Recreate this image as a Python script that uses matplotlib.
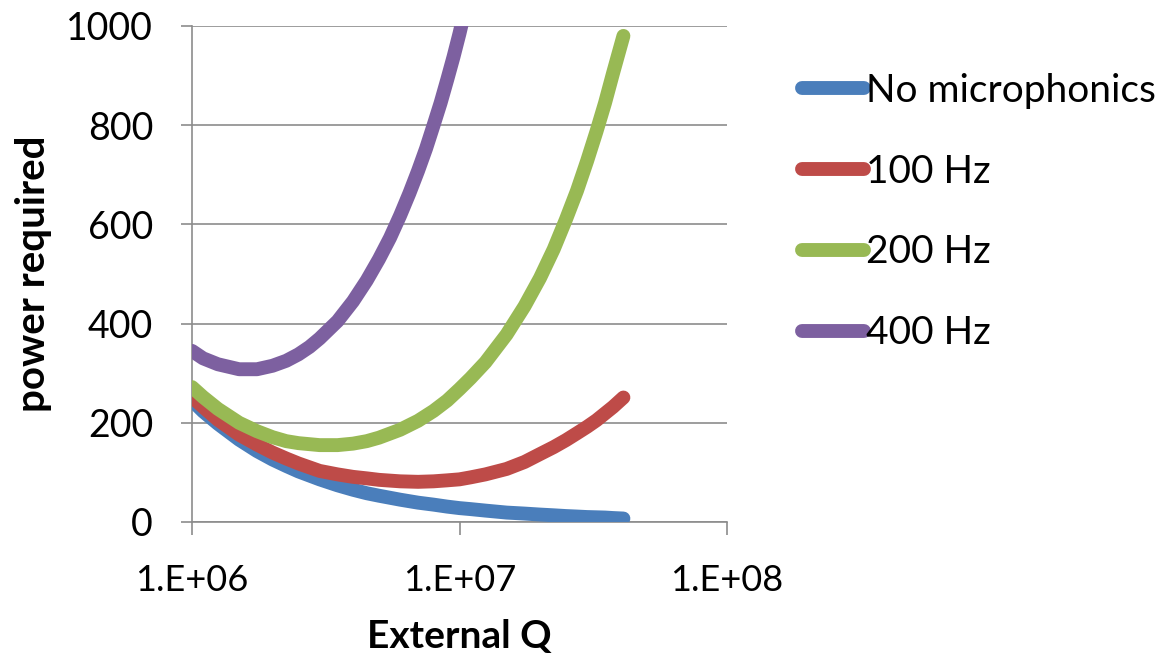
import matplotlib.pyplot as plt
from matplotlib.ticker import FixedLocator, NullLocator

# values
q = [1e6, 1.1e6, 1.25e6, 1.5e6, 1.75e6, 2e6, 2.25e6, 2.5e6, 3e6, 3.5e6,
     4e6, 4.5e6, 5e6, 6e6, 7e6, 8e6, 9e6, 1e7, 1.1e7, 1.25e7, 1.5e7,
     1.75e7, 2e7, 2.25e7, 2.5e7, 2.75e7, 3e7, 3.25e7, 3.5e7, 3.75e7, 4.1e7]
no_micro = [245, 223, 198, 166, 143, 126, 113, 102, 86, 74,
            65, 58, 53, 45, 39, 35, 31, 28, 26, 23, 19,
            17, 15, 13.5, 12, 11, 10, 9.5, 9, 8, 7]
hz100 = [252, 232, 206, 176, 156, 140, 128, 118, 103, 96,
         91, 88, 85, 82, 81, 82, 84, 86, 90, 96, 107,
         121, 137, 151, 165, 179, 192, 205, 219, 232, 251]
hz200 = [272, 252, 228, 200, 183, 171, 163, 159, 155, 155,
         158, 163, 170, 186, 204, 224, 245, 268, 290, 322, 378,
         435, 492, 550, 610, 668, 728, 787, 845, 905, 980]
q_400 = [1e6, 1.1e6, 1.25e6, 1.5e6, 1.75e6, 2e6, 2.25e6, 2.5e6, 2.75e6, 3e6,
         3.5e6, 4e6, 4.5e6, 5e6, 5.5e6, 6e6, 6.5e6, 7e6, 7.5e6, 8e6,
         8.5e6, 9e6, 9.5e6, 1e7, 1.1e7]
hz400 = [345, 330, 318, 308, 308, 315, 325, 338, 353, 370,
         405, 445, 487, 530, 573, 618, 663, 708, 753, 800,
         845, 892, 938, 985, 1080]

labels = ['No microphonics', '100 Hz', '200 Hz', '400 Hz']
colors = ['#4A7EBB', '#BE4B48', '#98B954', '#7D60A0']
yticks = [0, 200, 400, 600, 800, 1000]
xticks = [1e6, 1e7, 1e8]
xticklabels = ['1.E+06', '1.E+07', '1.E+08']

plt.rcParams['font.family'] = ['Lato', 'DejaVu Sans']

fig = plt.figure(figsize=(11.68, 6.57), dpi=100)
ax = fig.add_axes([192 / 1168, 1 - 522 / 657, (727 - 192) / 1168, (522 - 26) / 657])

lw = 10
series = [(q, no_micro), (q, hz100), (q, hz200), (q_400, hz400)]
for (xs, ys), lab, col in zip(series, labels, colors):
    ax.plot(xs, ys, color=col, lw=lw, solid_capstyle='round',
            solid_joinstyle='round', label=lab, zorder=3)

ax.set_xscale('log')
ax.set_xlim(1e6, 1e8)
ax.set_ylim(0, 1000)
ax.xaxis.set_major_locator(FixedLocator(xticks))
ax.xaxis.set_minor_locator(NullLocator())
ax.set_xticklabels(xticklabels)
ax.set_yticks(yticks)

ax.grid(axis='y', color='#8c8c8c', lw=1.2, zorder=0)
for s in ['top', 'right']:
    ax.spines[s].set_visible(False)
for s in ['left', 'bottom']:
    ax.spines[s].set_color('#8c8c8c')
    ax.spines[s].set_linewidth(1.2)
ax.tick_params(axis='y', length=8, width=1.2, color='#8c8c8c', pad=20, labelsize=27)
ax.tick_params(axis='x', length=9, width=1.2, color='#8c8c8c', pad=21, labelsize=26)

ax.set_xlabel('External Q', fontsize=28, fontweight='bold', labelpad=16)
ax.set_ylabel('power required', fontsize=29, fontweight='bold', labelpad=10)

ax.legend(loc='upper left', bbox_to_anchor=(802 / 1168, 1 - 73 / 657),
          bbox_transform=fig.transFigure, frameon=False, fontsize=28,
          handlelength=1.6, handletextpad=0.05, labelspacing=1.15,
          borderaxespad=0, borderpad=0)

fig.savefig('out.png', dpi=100)
